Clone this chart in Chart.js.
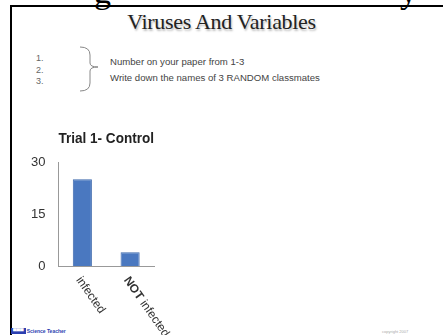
<!DOCTYPE html>
<html>
<head>
<meta charset="utf-8">
<script src="https://cdn.jsdelivr.net/npm/chart.js@4"></script>
<style>
  html, body { margin: 0; padding: 0; background: #fff; }
  body { width: 443px; height: 335px; position: relative; overflow: hidden; font-family: "Liberation Sans", Arial, sans-serif; }
  .frame { position: absolute; left: 10px; top: 5px; width: 440px; height: 340px; border-left: 2px solid #000; border-top: 2px solid #000; }
  .cut { position: absolute; font-family: "Liberation Serif", serif; font-size: 34px; color: #000; top: -27px; }
  .title { position: absolute; left: 0; width: 443px; top: 9px; text-align: center; font-family: "Liberation Serif", serif; font-size: 22px; color: #222; text-shadow: 1px 2px 2px #bbb; letter-spacing: -0.3px; }
  .nums { position: absolute; left: 36px; top: 53px; font-size: 9px; line-height: 11.5px; color: #666; }
  .line { position: absolute; left: 110px; font-size: 9.6px; color: #444; }
  .logo { position: absolute; left: 11px; top: 328px; font-size: 5px; color: #2a3fb0; font-weight: bold; }
  .logo span { background: #2a3fb0; color: #fff; padding: 0 2px; margin-right: 1px; }
  .copy { position: absolute; left: 382px; top: 329px; font-size: 4px; color: #aaa; }
  #wrap { position: absolute; left: 10px; top: 122px; width: 190px; height: 213px; }
</style>
</head>
<body>
<div class="frame"></div>
<div class="cut" style="left:94px">g</div>
<div class="cut" style="left:400px">y</div>
<div class="title">Viruses And Variables</div>
<div class="nums">1.<br>2.<br>3.</div>
<svg style="position:absolute;left:76px;top:45px" width="30" height="48">
  <path d="M4 2 Q14 2 14 10 L14 18 Q14 22 22 22 Q14 22 14 26 L14 38 Q14 46 4 46" fill="none" stroke="#888" stroke-width="1"/>
</svg>
<div class="line" style="top:56px">Number on your paper from 1-3</div>
<div class="line" style="top:72px">Write down the names of 3 RANDOM classmates</div>
<div class="logo"><span>▀▀▀</span>Science Teacher</div>
<div class="copy">copyright 2007 www.sciencespot.net</div>
<div id="wrap"><canvas id="trial"></canvas></div>
<script>
const categories = ['infected', 'NOT infected'];
const counts = [25, 4];
const yTicks = [0, 15, 30];

// x labels are rotated clockwise (reading downward), so draw them from the scale
const slantLabels = {
  id: 'slantLabels',
  afterDraw(chart) {
    const ctx = chart.ctx;
    const x = chart.scales.x;
    const bottom = chart.chartArea.bottom;
    ctx.save();
    ctx.fillStyle = '#333';
    ctx.textBaseline = 'middle';
    ctx.textAlign = 'left';
    categories.forEach((lab, i) => {
      const px = x.getPixelForTick(i);
      ctx.save();
      ctx.translate(px - 4, bottom + 12);
      ctx.rotate(55 * Math.PI / 180);
      let off = 0;
      if (lab.startsWith('NOT ')) {
        ctx.font = 'bold 12px "Liberation Sans", Arial';
        ctx.fillText('NOT', 0, 0);
        off = ctx.measureText('NOT ').width;
        lab = lab.slice(4);
      }
      ctx.font = '12px "Liberation Sans", Arial';
      ctx.fillText(lab, off, 0);
      ctx.restore();
    });
    ctx.restore();
  }
};

new Chart(document.getElementById('trial'), {
  type: 'bar',
  data: {
    labels: categories,
    datasets: [{
      data: counts,
      backgroundColor: '#4a78c0',
      borderColor: '#3d69ad',
      borderWidth: 1,
      categoryPercentage: 1,
      barPercentage: 0.4
    }]
  },
  options: {
    responsive: true,
    maintainAspectRatio: false,
    animation: false,
    layout: { padding: { left: 16, right: 46, top: 0, bottom: 61 } },
    plugins: {
      legend: { display: false },
      tooltip: { enabled: false },
      title: {
        display: true,
        text: 'Trial 1- Control',
        fullSize: false,
        color: '#222',
        font: { family: '"Liberation Sans", Arial', size: 15, weight: 'bold' },
        padding: { top: 8, bottom: 14 }
      }
    },
    scales: {
      x: {
        grid: { display: false },
        border: { color: '#999' },
        ticks: { display: false }
      },
      y: {
        min: 0,
        max: 30,
        afterBuildTicks: (s) => { s.ticks = yTicks.map(v => ({ value: v })); },
        grid: { display: false },
        border: { color: '#999' },
        ticks: { color: '#333', padding: 5, font: { family: '"Liberation Sans", Arial', size: 13 } }
      }
    }
  },
  plugins: [slantLabels]
});
</script>
</body>
</html>
